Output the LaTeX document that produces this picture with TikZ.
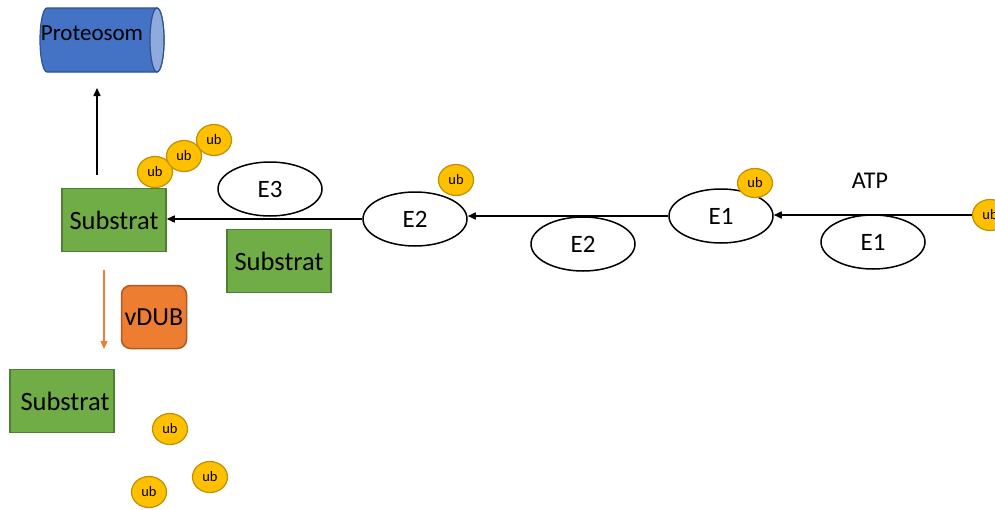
\documentclass[tikz,border=0pt]{standalone}
\usepackage{fontspec}
\setmainfont{Carlito}
\usetikzlibrary{arrows.meta,shapes.geometric}

\definecolor{subfill}{HTML}{70AD47}
\definecolor{subline}{HTML}{507E32}
\definecolor{ubfill}{HTML}{FFC000}
\definecolor{ubline}{HTML}{BF9000}
\definecolor{dubfill}{HTML}{ED7D31}
\definecolor{dubline}{HTML}{AE5A21}
\definecolor{protfill}{HTML}{4472C4}
\definecolor{protline}{HTML}{2F528F}
\definecolor{protcap}{HTML}{8FAADC}

\begin{document}
\begin{tikzpicture}[x=1pt,y=-1pt,
  substratbox/.style={draw=subline,fill=subfill,line width=1.5pt,
    minimum width=104pt,minimum height=63pt,inner sep=0pt,
    font=\fontsize{26.5}{29}\selectfont},
  enzyme/.style={ellipse,draw=black,line width=1.5pt,fill=white,
    minimum width=104pt,minimum height=54pt,inner sep=0pt,
    font=\fontsize{25}{28}\selectfont},
  ubq/.style={ellipse,draw=ubline,fill=ubfill,line width=1.2pt,
    minimum width=35pt,minimum height=31pt,inner sep=0pt,
    font=\fontsize{14.5}{16}\selectfont},
  flow/.style={line width=1.5pt,-{Triangle[length=8pt,width=7pt]}},
]
\useasboundingbox (0,0) rectangle (995,509);

% proteasome cylinder
\fill[protfill,draw=protline,line width=1.2pt]
  (47,8) -- (157,8) arc[start angle=-90,end angle=90,x radius=7,y radius=32]
  -- (47,72) arc[start angle=90,end angle=270,x radius=7,y radius=32] -- cycle;
\filldraw[fill=protcap,draw=protline,line width=1.2pt] (157,40) ellipse[x radius=7,y radius=32];
\node[font=\fontsize{23}{26}\selectfont,inner sep=0pt] (prot) at (92,33) {Proteosom};

% substrates
\node[substratbox] (sub1) at (114,220) {Substrat};
\node[substratbox] (sub2) at (279,261) {Substrat};
\node[substratbox] (sub3) at (62,401) {\hspace{6pt}Substrat};

% deubiquitinase
\node[draw=dubline,fill=dubfill,line width=1.5pt,rounded corners=9pt,
  minimum width=65pt,minimum height=63pt,inner sep=0pt,
  font=\fontsize{26}{29}\selectfont] (vdub) at (154,317) {vDUB};

% enzymes
\node[enzyme] (e3)  at (270,189) {E3};
\node[enzyme] (e2)  at (415,219) {E2};
\node[enzyme] (e2b) at (583,244) {E2};
\node[enzyme] (e1)  at (721,216) {E1};
\node[enzyme] (e1b) at (873,242) {E1};

\node[font=\fontsize{24}{27}\selectfont,inner sep=0pt] (atp) at (870,181) {ATP};

% ubiquitin chain on the substrate
\node[ubq] (ubA) at (155,172) {ub};
\node[ubq] (ubB) at (184,156) {ub};
\node[ubq] (ubC) at (214,140) {ub};

% ubiquitin carried by the enzymes
\node[ubq] (ubE2) at (456,180) {ub};
\node[ubq,minimum height=29pt] (ubE1) at (755,183) {ub};
\node[ubq] (ubR)  at (990,215) {ub};

% free ubiquitin after cleavage
\node[ubq] (ubF1) at (170,429) {ub};
\node[ubq] (ubF2) at (210,477) {ub};
\node[ubq] (ubF3) at (149,492) {ub};

% cascade arrows
\draw[flow] (ubR.west) -- (ubR.west -| e1.east);
\draw[flow] (e1.west) -- (e1.west -| e2.east);
\draw[flow] (e2.west) -- (e2.west -| sub1.east);

% to the proteasome
\coordinate (upstart) at (97,175);
\coordinate (upend) at (97,88);
\draw[flow] (upstart) -- (upend);

% deubiquitination
\coordinate (dnstart) at (104,270);
\coordinate (dnend) at (104,349);
\draw[dubfill,line width=1.2pt,-{Triangle[length=8pt,width=7pt]}] (dnstart) -- (dnend);
\end{tikzpicture}
\end{document}
